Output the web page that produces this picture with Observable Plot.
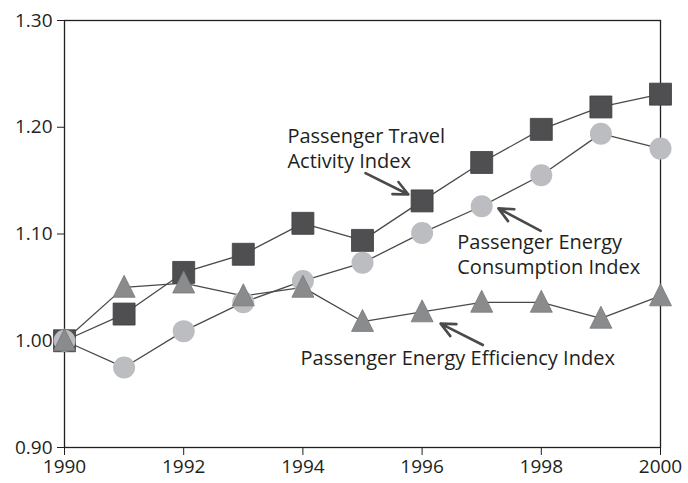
<!DOCTYPE html>
<html>
<head>
<meta charset="utf-8">
<script src="https://cdn.jsdelivr.net/npm/d3@7"></script>
<script src="https://cdn.jsdelivr.net/npm/@observablehq/plot@0.6"></script>
<style>
  html, body { margin: 0; padding: 0; background: #fff; }
</style>
</head>
<body>
<div id="chart"></div>
<script>
const years = [1990, 1991, 1992, 1993, 1994, 1995, 1996, 1997, 1998, 1999, 2000];
const travel = [1.000, 1.025, 1.064, 1.081, 1.110, 1.094, 1.131, 1.167, 1.198, 1.219, 1.231];
const consumption = [1.000, 0.975, 1.009, 1.036, 1.056, 1.073, 1.101, 1.126, 1.155, 1.194, 1.180];
const efficiency = [1.000, 1.050, 1.054, 1.042, 1.050, 1.018, 1.027, 1.036, 1.036, 1.021, 1.042];
const xTicks = [1990, 1992, 1994, 1996, 1998, 2000];
const yTicks = [0.90, 1.00, 1.10, 1.20, 1.30];

const travelLabel = [{x: 1993.74, y: 1.1812, text: "Passenger Travel\nActivity Index"}];
const consLabel = [{x: 1996.59, y: 1.0813, text: "Passenger Energy\nConsumption Index"}];
const effLabel = [{x: 1993.96, y: 0.9831, text: "Passenger Energy Efficiency Index"}];
const arrows = [
  {x1: 1995.05, y1: 1.157, x2: 1995.77, y2: 1.137},
  {x1: 1997.99, y1: 1.103, x2: 1997.28, y2: 1.124},
  {x1: 1997.02, y1: 0.996, x2: 1996.31, y2: 1.016}
];

const toRows = (vals) => years.map((yr, i) => ({year: yr, value: vals[i]}));
const travelRows = toRows(travel);
const consRows = toRows(consumption);
const effRows = toRows(efficiency);

const tallTriangle = {
  draw(context, size) {
    const r = Math.sqrt(size / Math.PI);
    const h = r * 2.0, w = r * 2.0;
    context.moveTo(0, -h * 0.55);
    context.lineTo(w / 2, h * 0.45);
    context.lineTo(-w / 2, h * 0.45);
    context.closePath();
  }
};

const lineColor = "#4a4a4a";
const textColor = "#231f20";

const chart = Plot.plot({
  width: 688,
  height: 483,
  marginLeft: 64,
  marginRight: 28,
  marginTop: 20,
  marginBottom: 36,
  style: {fontFamily: "'Open Sans', sans-serif", fontSize: "19px", color: textColor, background: "#fff"},
  x: {domain: [1990, 2000]},
  y: {domain: [0.9, 1.3]},
  marks: [
    Plot.axisY({ticks: yTicks, tickFormat: d3.format(".2f"), tickSize: 7, tickPadding: 5, fontSize: 19, label: null, stroke: textColor}),
    Plot.axisX({ticks: xTicks, tickFormat: d => String(d), tickSize: 8, tickPadding: 4, fontSize: 19, label: null, stroke: textColor}),
    Plot.frame({stroke: textColor, strokeWidth: 1.3}),
    Plot.line(travelRows, {x: "year", y: "value", stroke: lineColor, strokeWidth: 1.3}),
    Plot.line(consRows, {x: "year", y: "value", stroke: lineColor, strokeWidth: 1.3}),
    Plot.line(effRows, {x: "year", y: "value", stroke: lineColor, strokeWidth: 1.3}),
    Plot.dot(travelRows, {x: "year", y: "value", symbol: "square", r: 12.4, fill: "#4f4f51", stroke: "#3f3f41", strokeWidth: 0.8}),
    Plot.dot(consRows, {x: "year", y: "value", symbol: "circle", r: 11, fill: "#bcbdc0", stroke: "none"}),
    Plot.dot(effRows, {x: "year", y: "value", symbol: tallTriangle, r: 11, fill: "#8a8b8d", stroke: "#77787a", strokeWidth: 0.8}),
    Plot.arrow(arrows, {x1: "x1", y1: "y1", x2: "x2", y2: "y2", stroke: "#4a4a4c", strokeWidth: 2.6, headLength: 11, headAngle: 50}),
    Plot.text(travelLabel, {x: "x", y: "y", text: "text", textAnchor: "start", lineAnchor: "middle", lineHeight: 1.25, fontSize: 20, fill: textColor}),
    Plot.text(consLabel, {x: "x", y: "y", text: "text", textAnchor: "start", lineAnchor: "middle", lineHeight: 1.25, fontSize: 20, fill: textColor}),
    Plot.text(effLabel, {x: "x", y: "y", text: "text", textAnchor: "start", lineAnchor: "middle", fontSize: 20, fill: textColor})
  ]
});
document.getElementById("chart").appendChild(chart);
</script>
</body>
</html>
